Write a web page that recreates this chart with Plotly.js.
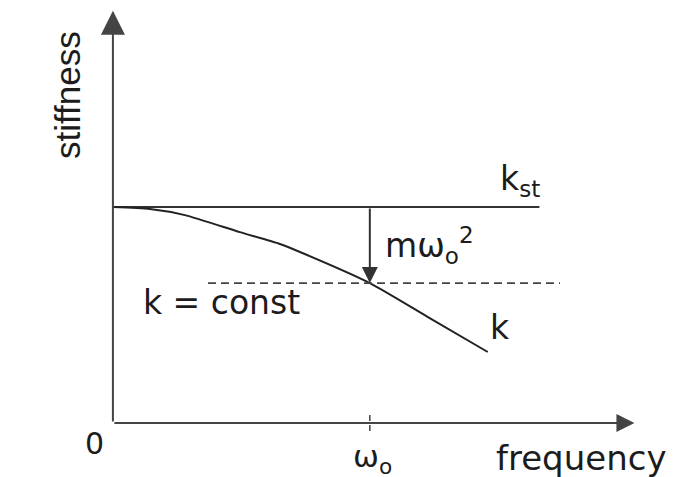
<!DOCTYPE html>
<html>
<head>
<meta charset="utf-8">
<script src="https://cdn.plot.ly/plotly-3.0.1.min.js"></script>
<style>html,body{margin:0;padding:0;background:#fff;}</style>
</head>
<body>
<div id="chart" style="width:673px;height:477px;"></div>
<script>
// Frequency in units of the resonance frequency, stiffness in units of k_st
const freq   = [0, 0.144, 0.28, 0.494, 0.65, 0.728, 1.0, 1.233, 1.459];
const stiffK = [1.0, 0.991, 0.963, 0.884, 0.829, 0.792, 0.648, 0.486, 0.329];

const kStatic = 1.0;              // static stiffness k_st
const kStaticEnd = 1.66;          // extent of the k_st line
const kConst = 0.648;             // k = const level
const kConstSpan = [0.37, 1.74];  // extent of the dashed line
const omega0 = 1.0;               // resonance frequency
const xAxisEnd = 2.03;
const yAxisEnd = 1.91;

const ink = '#1c1c1c';
const textFont = {family: 'DejaVu Sans, sans-serif', size: 33, color: ink};

const traces = [
  { // static stiffness
    x: [0, kStaticEnd], y: [kStatic, kStatic], mode: 'lines',
    line: {color: '#333333', width: 2}, hoverinfo: 'skip'
  },
  { // dynamic stiffness k
    x: freq, y: stiffK, mode: 'lines',
    line: {color: '#222222', width: 2, shape: 'spline', smoothing: 0.6}, hoverinfo: 'skip'
  },
  { // k = const
    x: kConstSpan, y: [kConst, kConst], mode: 'lines',
    line: {color: '#444444', width: 1.8, dash: '8px,5px'}, hoverinfo: 'skip'
  },
  { // tick at omega_o
    x: [omega0, omega0], y: [0.037, -0.046], mode: 'lines',
    line: {color: '#444444', width: 1.5, dash: '6px,4px'}, hoverinfo: 'skip'
  }
];

// a line ending in a filled arrow head, from (ax, ay) to (x, y)
function arrow(x, y, ax, ay, head, size, color) {
  return {x: x, y: y, ax: ax, ay: ay, xref: 'x', yref: 'y', axref: 'x', ayref: 'y',
          text: '', showarrow: true, arrowhead: head, arrowsize: size,
          arrowwidth: 2, arrowcolor: color, standoff: 0, startstandoff: 0};
}

function label(text, x, y, xanchor, extra) {
  return Object.assign({x: x, y: y, xref: 'x', yref: 'y', text: text, showarrow: false,
          xanchor: xanchor, yanchor: 'middle', font: textFont}, extra || {});
}

const annotations = [
  arrow(0, yAxisEnd, 0, 0, 2, 2.4, '#444444'),
  arrow(xAxisEnd, 0, 0, 0, 2, 1.8, '#444444'),
  arrow(omega0, kConst, omega0, kStatic, 2, 1.6, '#333333'),
  label('stiffness', -0.179, 1.519, 'center',
        {textangle: -90, font: {family: 'Liberation Sans, Arial, sans-serif', size: 35, color: ink}}),
  label('k<sub>st</sub>', 1.498, 1.125, 'left'),
  label('mω<sub>o</sub><sup>2</sup>', 1.05, 0.824, 'left'),
  label('k = const', 0.11, 0.56, 'left'),
  label('k', 1.459, 0.444, 'left'),
  label('0', -0.07, -0.097, 'center', {font: {family: 'DejaVu Sans, sans-serif', size: 30, color: ink}}),
  label('ω<sub>o</sub>', 0.925, -0.165, 'left', {font: {family: 'DejaVu Sans, sans-serif', size: 31, color: ink}}),
  label('frequency', 1.485, -0.16, 'left', {font: {family: 'DejaVu Sans, sans-serif', size: 34, color: ink}})
];

const layout = {
  width: 673, height: 477,
  margin: {l: 5, r: 0, t: 2, b: 0},
  paper_bgcolor: '#ffffff', plot_bgcolor: '#ffffff',
  showlegend: false,
  xaxis: {range: [-0.42, 2.18], visible: false, fixedrange: true},
  yaxis: {range: [-0.25, 1.95], visible: false, fixedrange: true},
  annotations: annotations
};

Plotly.newPlot('chart', traces, layout, {staticPlot: true, displayModeBar: false});
</script>
</body>
</html>
